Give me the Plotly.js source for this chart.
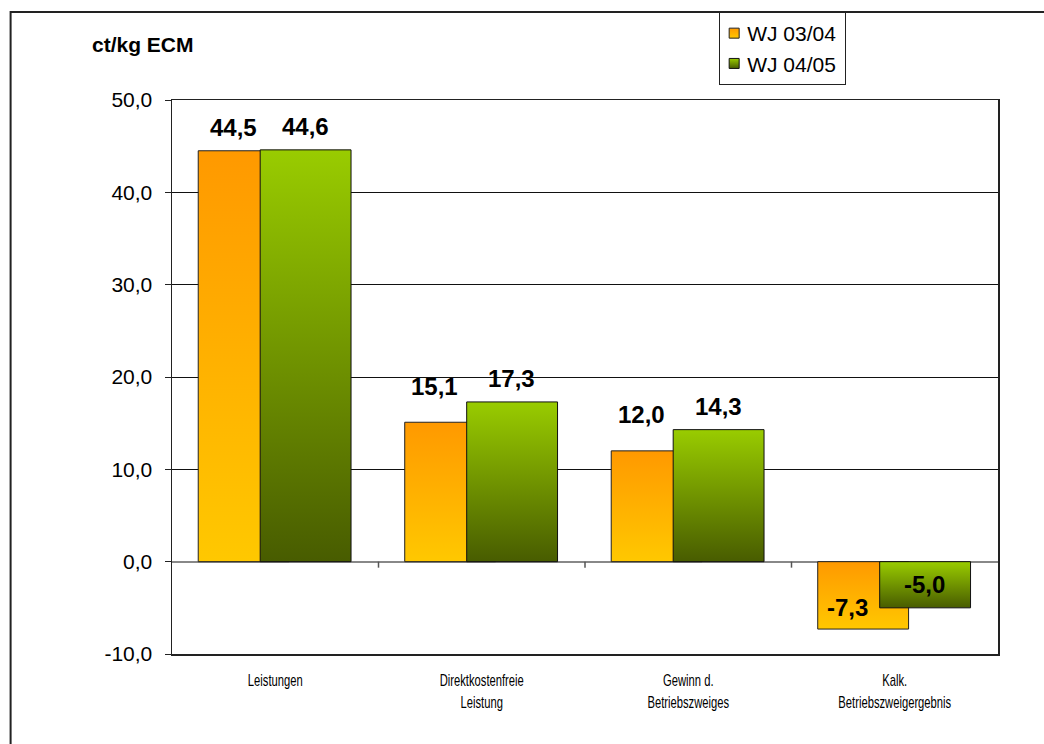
<!DOCTYPE html>
<html>
<head>
<meta charset="utf-8">
<script src="https://cdn.plot.ly/plotly-3.0.1.min.js"></script>
<style>html,body{margin:0;padding:0;background:#fff;}#chart{width:1044px;height:744px;}</style>
</head>
<body>
<div id="chart"></div>
<script>
// ---- data ----
const categories = ["Leistungen", "Direktkostenfreie<br>Leistung", "Gewinn d.<br>Betriebszweiges", "Kalk.<br>Betriebszweigergebnis"];
const seriesNames = ["WJ 03/04", "WJ 04/05"];
const valuesWJ0304 = [44.5, 15.1, 12.0, -7.3];
const valuesWJ0405 = [44.6, 17.3, 14.3, -5.0];
const yTickValues = [-10, 0, 10, 20, 30, 40, 50];
const yTickLabels = ["-10,0", "0,0", "10,0", "20,0", "30,0", "40,0", "50,0"];
const yTitle = "ct/kg ECM";

// ---- layout constants ----
const W = 1044, H = 744;
const M = {l: 171.5, r: 46, t: 100, b: 90};
const pw = W - M.l - M.r, ph = H - M.t - M.b;
const px2paperX = p => (p - M.l) / pw;
const px2paperY = p => (H - M.b - p) / ph;
const barW = 0.44;
const offA = -0.373, offB = -0.073;
const FONT = "Liberation Sans, Arial, sans-serif";
const fmt = v => v.toFixed(1).replace('.', ',');

const traces = [
  {type: 'bar', name: seriesNames[0], x: categories, y: valuesWJ0304, width: barW, offset: offA,
   marker: {color: '#FFB000', line: {color: '#222', width: 1}}, hoverinfo: 'none'},
  {type: 'bar', name: seriesNames[1], x: categories, y: valuesWJ0405, width: barW, offset: offB,
   marker: {color: '#7A9A00', line: {color: '#111', width: 1}}, hoverinfo: 'none'}
];

const annotations = [];
categories.forEach((c, i) => {
  const a = valuesWJ0304[i], b = valuesWJ0405[i];
  const close = Math.abs(a - b) < 1;
  const aShift = a < 0 ? 22 : (close ? 23 : 36);
  annotations.push({x: c, y: a, xref: 'x', yref: 'y', text: '<b>' + fmt(a) + '</b>', showarrow: false,
    xshift: close ? -42 : -47, yshift: aShift, yanchor: 'middle', xanchor: 'center',
    font: {family: FONT, size: 24, color: '#000'}});
  annotations.push({x: c, y: b, xref: 'x', yref: 'y', text: '<b>' + fmt(b) + '</b>', showarrow: false,
    xshift: 30, yshift: 23, yanchor: 'middle', xanchor: 'center',
    font: {family: FONT, size: 24, color: '#000'}});
});
annotations.push({x: px2paperX(89), y: px2paperY(45), xref: 'paper', yref: 'paper', xanchor: 'left', yanchor: 'middle',
  text: '<b>' + yTitle + '</b>', showarrow: false, font: {family: FONT, size: 21, color: '#000'}});

const shapes = [
  {type: 'rect', xref: 'paper', yref: 'paper', x0: px2paperX(10), x1: px2paperX(1200), y0: px2paperY(900), y1: px2paperY(12),
   line: {color: '#222', width: 2}, fillcolor: 'rgba(0,0,0,0)', layer: 'below'}
];
for (let i = 0; i < categories.length - 1; i++) {
  shapes.push({type: 'line', xref: 'x', yref: 'y', x0: i + 0.5, x1: i + 0.5, ysizemode: 'pixel', yanchor: 0, y0: 0, y1: -6,
    line: {color: '#555', width: 1.5}});
}

const layout = {
  width: W, height: H,
  margin: M,
  paper_bgcolor: '#fff', plot_bgcolor: '#fff',
  barmode: 'overlay',
  showlegend: true,
  legend: {x: px2paperX(719), y: px2paperY(12), xanchor: 'left', yanchor: 'top',
    bgcolor: '#fff', bordercolor: '#222', borderwidth: 1,
    font: {family: FONT, size: 21, color: '#000'}, tracegroupgap: 4, traceorder: 'normal'},
  xaxis: {type: 'category', range: [-0.5, 3.5], showgrid: false, zeroline: false,
    showline: true, mirror: true, linecolor: '#222', linewidth: 1.5, ticks: '',
    tickfont: {family: FONT, size: 17, color: '#000'},
    ticklabelstandoff: 10},
  yaxis: {range: [-10, 50], tickmode: 'array', tickvals: yTickValues, ticktext: yTickLabels,
    showgrid: true, gridcolor: '#111', gridwidth: 1,
    zeroline: true, zerolinecolor: '#888', zerolinewidth: 2,
    showline: true, mirror: true, linecolor: '#222', linewidth: 1.5,
    ticks: 'outside', ticklen: 6, tickcolor: '#222', tickwidth: 1,
    tickfont: {family: FONT, size: 21, color: '#000'}, ticklabelstandoff: 8},
  annotations: annotations,
  shapes: shapes
};

Plotly.newPlot('chart', traces, layout, {staticPlot: true, displayModeBar: false}).then(gd => {
  const svg = gd.querySelector('svg.main-svg');
  const NS = 'http://www.w3.org/2000/svg';
  let defs = svg.querySelector('defs');
  if (!defs) { defs = document.createElementNS(NS, 'defs'); svg.insertBefore(defs, svg.firstChild); }
  const mk = (id, top, bottom) => {
    const g = document.createElementNS(NS, 'linearGradient');
    g.setAttribute('id', id);
    g.setAttribute('x1', '0'); g.setAttribute('y1', '0'); g.setAttribute('x2', '0'); g.setAttribute('y2', '1');
    [[0, top], [1, bottom]].forEach(([o, c]) => {
      const s = document.createElementNS(NS, 'stop');
      s.setAttribute('offset', o); s.setAttribute('stop-color', c);
      g.appendChild(s);
    });
    defs.appendChild(g);
  };
  mk('gradA', '#FF9900', '#FFC800');
  mk('gradB', '#99CC00', '#485C00');
  const grads = ['url(#gradA)', 'url(#gradB)'];
  gd.querySelectorAll('.barlayer .trace.bars').forEach((t, i) => {
    t.querySelectorAll('path').forEach(p => { p.style.fill = grads[i]; });
  });
  const legTraces = gd.querySelectorAll('.legend .traces');
  legTraces.forEach((t, i) => {
    t.querySelectorAll('.legendpoints path').forEach(p => {
      p.style.fill = grads[i];
      p.setAttribute('d', 'M5,5H-5V-5H5Z');
    });
    const lp = t.querySelector('.legendpoints');
    if (lp) lp.setAttribute('transform', 'translate(-6,0)');
    const txt = t.querySelector('.legendtext');
    if (txt) {
      const x0 = parseFloat(txt.getAttribute('x') || '40');
      txt.setAttribute('x', x0 - 13);
      txt.querySelectorAll('tspan').forEach(ts => { if (ts.hasAttribute('x')) ts.setAttribute('x', x0 - 13); });
    }
  });
  const bg = gd.querySelector('.legend .bg');
  if (bg) bg.setAttribute('width', parseFloat(bg.getAttribute('width')) - 10);
  gd.querySelectorAll('.xtick text').forEach(t => {
    const tr = t.getAttribute('transform') || '';
    const x = parseFloat(t.getAttribute('x') || '0');
    t.setAttribute('transform', tr + ' translate(' + x + ',0) scale(0.66,1) translate(' + (-x) + ',0)');
  });
});
</script>
</body>
</html>
